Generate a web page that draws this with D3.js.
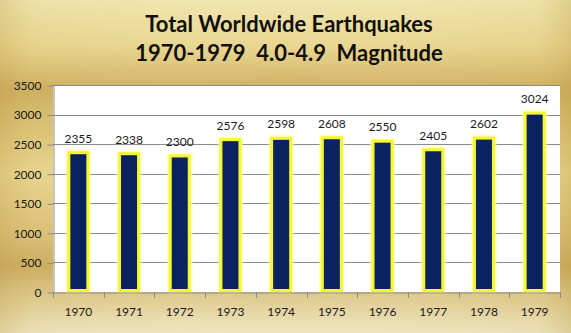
<!DOCTYPE html>
<html>
<head>
<meta charset="utf-8">
<script src="https://cdn.jsdelivr.net/npm/d3@7"></script>
<style>
  html, body { margin: 0; padding: 0; background: #fff; }
  svg { display: block; }
  text { font-family: Lato, "Open Sans", sans-serif; }
</style>
</head>
<body>
<svg id="chart" width="571" height="333"></svg>
<script>
// Yearly counts of magnitude 4.0-4.9 earthquakes worldwide
const years = ["1970", "1971", "1972", "1973", "1974", "1975", "1976", "1977", "1978", "1979"];
const counts = [2355, 2338, 2300, 2576, 2598, 2608, 2550, 2405, 2602, 3024];
const yTicks = [0, 500, 1000, 1500, 2000, 2500, 3000, 3500];
const titleLines = ["Total Worldwide Earthquakes", "1970-1979  4.0-4.9  Magnitude"];

const W = 571, H = 333;
const plot = { left: 53, right: 560, top: 85, bottom: 292 };

const svg = d3.select("#chart");
const defs = svg.append("defs");

// Golden backdrop: vertical bands plus a darker sheen on the sides
const bg = defs.append("linearGradient").attr("id", "gold").attr("x1", 0).attr("y1", 0).attr("x2", 0).attr("y2", 1);
[[0, "#f1e6b0"], [0.14, "#e9d68f"], [0.27, "#cfb062"], [0.33, "#d6bb6c"], [0.52, "#ead891"],
 [0.7, "#dcc27a"], [0.8, "#cdae62"], [0.9, "#e0cd93"], [1, "#efe6c0"]]
  .forEach(([o, c]) => bg.append("stop").attr("offset", o).attr("stop-color", c));

const side = defs.append("linearGradient").attr("id", "side").attr("x1", 0).attr("y1", 0).attr("x2", 1).attr("y2", 0);
[[0, "#b8963f", 0.28], [0.06, "#c8a955", 0.08], [0.5, "#ffffff", 0], [0.94, "#c8a955", 0.08], [1, "#b8963f", 0.3]]
  .forEach(([o, c, a]) => side.append("stop").attr("offset", o).attr("stop-color", c).attr("stop-opacity", a));

svg.append("rect").attr("width", W).attr("height", H).attr("fill", "url(#gold)");
svg.append("rect").attr("width", W).attr("height", H).attr("fill", "url(#side)");

// Soft glow round the bar outlines
const glow = defs.append("filter").attr("id", "glow").attr("x", "-50%").attr("y", "-20%").attr("width", "200%").attr("height", "140%");
glow.append("feGaussianBlur").attr("stdDeviation", 1);

// Title
svg.append("g")
  .selectAll("text")
  .data(titleLines)
  .join("text")
  .attr("x", 289)
  .attr("y", (d, i) => 32 + i * 28.5)
  .attr("text-anchor", "middle")
  .attr("font-size", 22)
  .attr("font-weight", 700)
  .attr("fill", "#111")
  .style("white-space", "pre")
  .text(d => d);

// Scales
const x = d3.scaleBand().domain(years).range([plot.left, plot.right]).paddingInner(0).paddingOuter(0);
const y = d3.scaleLinear().domain([0, 3500]).range([plot.bottom, plot.top]);

// Plot area
svg.append("rect")
  .attr("x", plot.left).attr("y", plot.top)
  .attr("width", plot.right - plot.left).attr("height", plot.bottom - plot.top)
  .attr("fill", "#ffffff");

// Gridlines
svg.append("g")
  .selectAll("line")
  .data(yTicks.filter(t => t > 0))
  .join("line")
  .attr("x1", plot.left).attr("x2", plot.right)
  .attr("y1", d => Math.round(y(d)) + 0.5).attr("y2", d => Math.round(y(d)) + 0.5)
  .attr("stroke", "#8a8a8a").attr("stroke-width", 1);

// Y axis
const yAxis = svg.append("g")
  .attr("transform", `translate(${plot.left + 0.5},0.5)`)
  .call(d3.axisLeft(y).tickValues(yTicks).tickFormat(d3.format("d"))
    .tickSize(6).tickPadding(6).tickSizeOuter(0));
yAxis.select(".domain").attr("stroke", "#8a8a8a");
yAxis.selectAll(".tick line").attr("stroke", "#8a8a8a");
yAxis.selectAll(".tick text")
  .attr("font-family", "Lato, 'Open Sans', sans-serif")
  .attr("font-size", 12).attr("fill", "#1a1a1a");

// Bars
const barW = 19;
const bars = svg.append("g");
bars.selectAll("rect.halo")
  .data(counts)
  .join("rect")
  .attr("class", "halo")
  .attr("x", (d, i) => x(years[i]) + x.bandwidth() / 2 - barW / 2)
  .attr("y", d => y(d))
  .attr("width", barW)
  .attr("height", d => y(0) - 1.5 - y(d))
  .attr("fill", "none")
  .attr("stroke", "#ffff99")
  .attr("stroke-width", 5)
  .attr("filter", "url(#glow)");
bars.selectAll("rect.bar")
  .data(counts)
  .join("rect")
  .attr("class", "bar")
  .attr("x", (d, i) => x(years[i]) + x.bandwidth() / 2 - barW / 2)
  .attr("y", d => y(d))
  .attr("width", barW)
  .attr("height", d => y(0) - 1.5 - y(d))
  .attr("fill", "#0b2260")
  .attr("stroke", "#f5f531")
  .attr("stroke-width", 3);

// X axis
const xAxis = svg.append("g")
  .attr("transform", `translate(0,${plot.bottom + 0.5})`)
  .call(d3.axisBottom(x).tickSize(0).tickPadding(15));
xAxis.select(".domain").attr("stroke", "#8a8a8a");
xAxis.selectAll(".tick text")
  .attr("font-family", "Lato, 'Open Sans', sans-serif")
  .attr("font-size", 12).attr("fill", "#1a1a1a");
svg.append("g")
  .selectAll("line")
  .data(years.concat(["end"]))
  .join("line")
  .attr("x1", (d, i) => Math.round(plot.left + i * x.bandwidth()) + 0.5)
  .attr("x2", (d, i) => Math.round(plot.left + i * x.bandwidth()) + 0.5)
  .attr("y1", plot.bottom).attr("y2", plot.bottom + 6)
  .attr("stroke", "#8a8a8a");

// Value labels
svg.append("g")
  .selectAll("text")
  .data(counts)
  .join("text")
  .attr("x", (d, i) => x(years[i]) + x.bandwidth() / 2)
  .attr("y", d => y(d) - 10)
  .attr("text-anchor", "middle")
  .attr("font-size", 12)
  .attr("fill", "#1a1a1a")
  .text(d => d);
</script>
</body>
</html>
